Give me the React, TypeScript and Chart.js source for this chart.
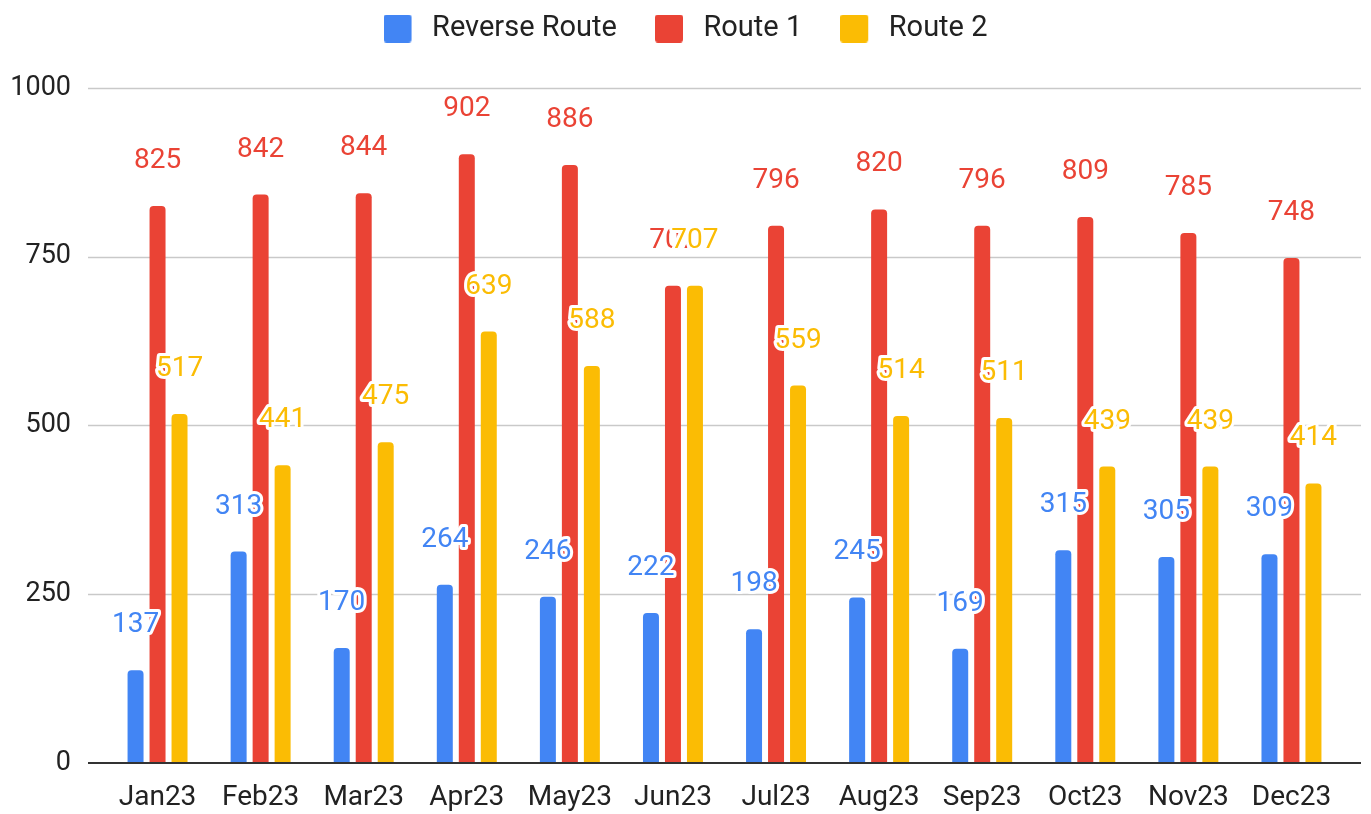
import React, { useEffect, useRef } from 'react';
import { Chart, registerables } from 'chart.js';

Chart.register(...registerables);

const categories = ['Jan23', 'Feb23', 'Mar23', 'Apr23', 'May23', 'Jun23', 'Jul23', 'Aug23', 'Sep23', 'Oct23', 'Nov23', 'Dec23'];
const reverseRoute = [137, 313, 170, 264, 246, 222, 198, 245, 169, 315, 305, 309];
const route1 = [825, 842, 844, 902, 886, 707, 796, 820, 796, 809, 785, 748];
const route2 = [517, 441, 475, 639, 588, 707, 559, 514, 511, 439, 439, 414];
const yTicks = [0, 250, 500, 750, 1000];
const seriesNames = ['Reverse Route', 'Route 1', 'Route 2'];
const seriesColors = ['#4285f4', '#ea4335', '#fbbc04'];

const FONT = 'Roboto, "Noto Sans", Arial, sans-serif';
const TEXT = '#222222';

function makeBox(color: string): HTMLCanvasElement {
  const c = document.createElement('canvas');
  c.width = 34;
  c.height = 28;
  const g = c.getContext('2d')!;
  g.fillStyle = color;
  g.beginPath();
  if ((g as any).roundRect) (g as any).roundRect(0, 0, 28, 28, 3);
  else g.rect(0, 0, 28, 28);
  g.fill();
  return c;
}

const legendFit = {
  id: 'legendFit',
  beforeInit(chart: any) {
    const lg = chart.legend;
    if (!lg) return;
    const orig = lg.fit;
    lg.fit = function () {
      orig.call(this);
      this.height = 112;
    };
  },
  afterLayout(chart: any) {
    const lg = chart.legend;
    if (!lg) return;
    lg.left = 0;
    lg.right = chart.width;
    lg.width = chart.width;
  },
};

const gridAndLabels = {
  id: 'gridAndLabels',
  beforeDatasetsDraw(chart: any) {
    const { ctx, chartArea, scales } = chart;
    const y = scales.y;
    ctx.save();
    yTicks.forEach((v) => {
      if (v === 0) return;
      const py = Math.round(y.getPixelForValue(v)) + 0.5;
      ctx.strokeStyle = '#c9c9c9';
      ctx.lineWidth = 1.5;
      ctx.beginPath();
      ctx.moveTo(chartArea.left - 18, py);
      ctx.lineTo(chartArea.right + 18, py);
      ctx.stroke();
    });
    ctx.restore();
  },
  afterDatasetsDraw(chart: any) {
    const { ctx, chartArea, scales } = chart;
    const y = scales.y;
    ctx.save();
    const p0 = Math.round(y.getPixelForValue(0));
    ctx.strokeStyle = '#333333';
    ctx.lineWidth = 2;
    ctx.beginPath();
    ctx.moveTo(chartArea.left - 18, p0);
    ctx.lineTo(chartArea.right + 18, p0);
    ctx.stroke();

    ctx.font = `28px ${FONT}`;
    ctx.textAlign = 'center';
    ctx.textBaseline = 'middle';
    ctx.lineJoin = 'round';
    chart.data.datasets.forEach((ds: any, i: number) => {
      const meta = chart.getDatasetMeta(i);
      meta.data.forEach((bar: any, j: number) => {
        const txt = String(ds.data[j]);
        const x = bar.x;
        const yy = bar.y - 45;
        ctx.lineWidth = 6;
        ctx.strokeStyle = '#ffffff';
        ctx.strokeText(txt, x, yy);
        ctx.fillStyle = seriesColors[i];
        ctx.fillText(txt, x, yy);
      });
    });
    ctx.restore();
  },
};

export default function App() {
  const ref = useRef<HTMLCanvasElement | null>(null);

  useEffect(() => {
    if (!ref.current) return;
    const boxes = seriesColors.map((c) => makeBox(c));
    const values = [reverseRoute, route1, route2];
    const chart = new Chart(ref.current, {
      type: 'bar',
      data: {
        labels: categories,
        datasets: seriesNames.map((name, i) => ({
          label: name,
          data: values[i],
          backgroundColor: seriesColors[i],
          borderRadius: 4,
          barPercentage: 0.727,
          categoryPercentage: 0.64,
        })),
      },
      options: {
        animation: false,
        responsive: true,
        maintainAspectRatio: false,
        layout: { padding: { top: -24, right: 28, bottom: 0, left: 0 } },
        plugins: {
          tooltip: { enabled: false },
          legend: {
            position: 'top',
            align: 'center',
            labels: {
              usePointStyle: true,
              pointStyleWidth: 34,
              boxHeight: 28,
              padding: 38,
              color: TEXT,
              font: { family: FONT, size: 29 },
              generateLabels: (ch: any) =>
                (Chart.defaults.plugins.legend.labels as any)
                  .generateLabels(ch)
                  .map((l: any, i: number) => ({ ...l, pointStyle: boxes[i] })),
            },
          },
        },
        scales: {
          x: {
            grid: { display: false },
            border: { display: false },
            ticks: {
              color: TEXT,
              font: { family: FONT, size: 28 },
              padding: 10,
              maxRotation: 0,
              autoSkip: false,
            },
            afterFit: (s: any) => {
              s.height = 51;
            },
          },
          y: {
            min: 0,
            max: 1000,
            grid: { display: false, drawTicks: false },
            border: { display: false },
            ticks: {
              stepSize: 250,
              color: TEXT,
              font: { family: FONT, size: 27 },
              padding: 35,
              callback: (v: any) => String(v),
            },
            afterFit: (s: any) => {
              s.width = 106;
            },
          },
        },
      },
      plugins: [legendFit, gridAndLabels],
    });
    return () => chart.destroy();
  }, []);

  return (
    <div style={{ position: 'fixed', left: 0, top: 0, width: '1371px', height: '814px', background: '#fff' }}>
      <canvas ref={ref} />
    </div>
  );
}
